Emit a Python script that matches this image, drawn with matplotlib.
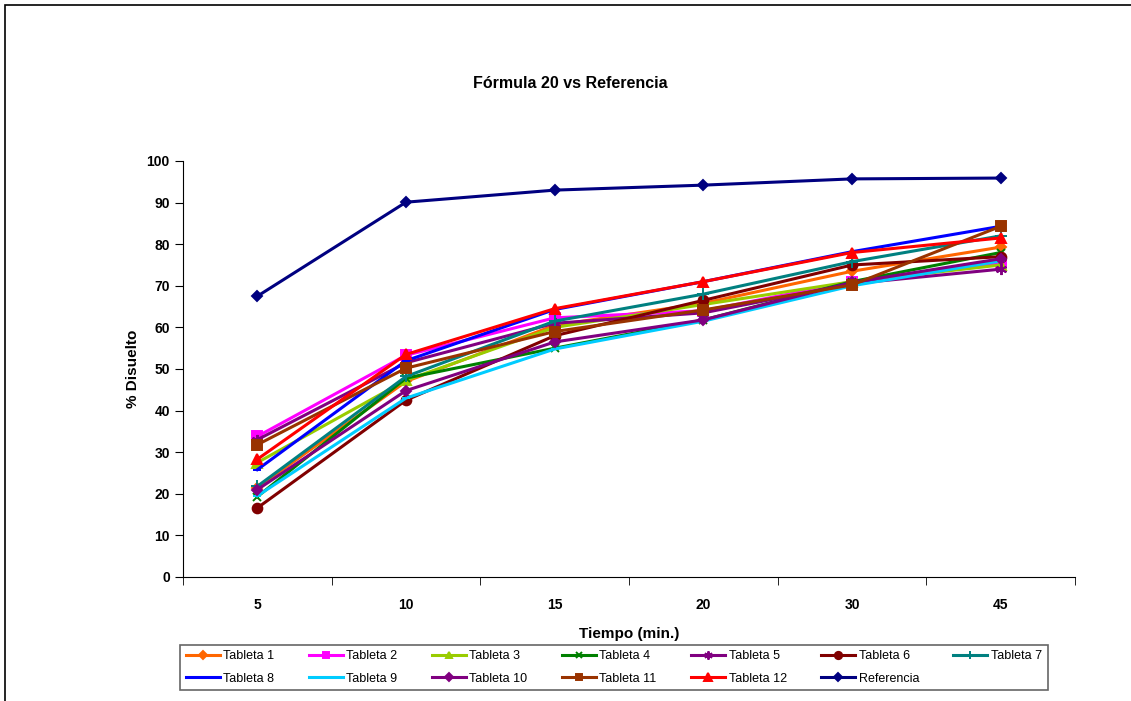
import numpy as np
import matplotlib.pyplot as plt
from matplotlib.patches import Rectangle

plt.rcParams['font.family'] = ['Liberation Sans', 'DejaVu Sans']

tiempos = ["5", "10", "15", "20", "30", "45"]

tableta1 = [21.5, 47.0, 60.5, 65.8, 73.5, 79.3]
tableta2 = [33.8, 53.3, 62.3, 64.0, 71.0, 75.5]
tableta3 = [27.5, 47.3, 60.0, 65.5, 71.0, 75.0]
tableta4 = [19.3, 47.8, 55.0, 61.8, 71.0, 78.0]
tableta5 = [33.0, 51.5, 61.0, 63.5, 70.5, 74.0]
tableta6 = [16.6, 42.5, 58.0, 66.5, 75.0, 77.0]
tableta7 = [21.8, 48.2, 61.5, 68.0, 75.8, 82.0]
tableta8 = [25.8, 52.0, 64.3, 71.0, 78.2, 84.3]
tableta9 = [19.5, 43.0, 54.8, 61.5, 70.0, 76.0]
tableta10 = [21.0, 44.8, 56.5, 61.8, 70.8, 76.5]
tableta11 = [31.8, 50.2, 59.0, 64.2, 70.2, 84.3]
tableta12 = [28.3, 53.5, 64.5, 71.0, 78.0, 81.5]
referencia = [67.5, 90.1, 93.0, 94.2, 95.7, 95.9]

series = [
    ("Tableta 1", tableta1, "#FF6600", "D", 5.5),
    ("Tableta 2", tableta2, "#FF00FF", "s", 6.5),
    ("Tableta 3", tableta3, "#99CC00", "^", 6.5),
    ("Tableta 4", tableta4, "#008000", "x", 6),
    ("Tableta 5", tableta5, "#800080", (6, 2, 0), 8),
    ("Tableta 6", tableta6, "#800000", "o", 7),
    ("Tableta 7", tableta7, "#008080", "+", 8),
    ("Tableta 8", tableta8, "#0000FF", "_", 6),
    ("Tableta 9", tableta9, "#00CCFF", "_", 6),
    ("Tableta 10", tableta10, "#800080", "D", 5.5),
    ("Tableta 11", tableta11, "#993300", "s", 6.5),
    ("Tableta 12", tableta12, "#FF0000", "^", 7.5),
    ("Referencia", referencia, "#000080", "D", 5.5),
]

fig = plt.figure(figsize=(11.31, 7.01), dpi=100)
ax = fig.add_axes([183 / 1131, 1 - 577 / 701, (1075 - 183) / 1131, (577 - 161) / 701])

x = np.arange(len(tiempos))
handles = []
for nombre, valores, color, marcador, ms in series:
    h, = ax.plot(x, valores, color=color, marker=marcador, markersize=ms, lw=2.2,
                 markeredgewidth=1.4, label=nombre)
    handles.append(h)

ax.set_xlim(-0.5, len(tiempos) - 0.5)
ax.set_ylim(0, 100)
ax.set_yticks(range(0, 101, 10))
ax.set_xticks(x)
ax.set_xticklabels(tiempos)
ax.set_xticks(np.arange(-0.5, len(tiempos)), minor=True)
ax.tick_params(axis='x', which='major', length=0, pad=15, labelsize=10)
ax.tick_params(axis='x', which='minor', length=6, direction='out')
ax.tick_params(axis='y', length=6, direction='out', labelsize=10)
for lab in ax.get_xticklabels() + ax.get_yticklabels():
    lab.set_fontweight('bold')
ax.spines['top'].set_visible(False)
ax.spines['right'].set_visible(False)

ax.set_xlabel("Tiempo (min.)", fontsize=11, fontweight='bold', labelpad=11)
ax.set_ylabel("% Disuelto", fontsize=11, fontweight='bold', labelpad=5)
fig.text(570 / 1131, 1 - 83 / 701, "Fórmula 20 vs Referencia", ha='center', va='center',
         fontsize=11.5, fontweight='bold')

orden = [0, 7, 1, 8, 2, 9, 3, 10, 4, 11, 5, 12, 6]
leg = fig.legend([handles[i] for i in orden], [handles[i].get_label() for i in orden],
                 ncol=7, loc='center', bbox_to_anchor=(614 / 1131, 1 - 667.5 / 701),
                 fontsize=9, frameon=True, fancybox=False, edgecolor='#404040',
                 handlelength=2.7, handletextpad=0.3, columnspacing=2.75,
                 labelspacing=0.85, borderpad=0.45, markerscale=0.75)
leg.get_frame().set_linewidth(1.2)

fig.patches.append(Rectangle((5 / 1131, -0.05), 1.1, 1 - 5 / 701 + 0.05, transform=fig.transFigure,
                             fill=False, edgecolor='black', lw=1.2))

fig.savefig("out.png", dpi=100)
